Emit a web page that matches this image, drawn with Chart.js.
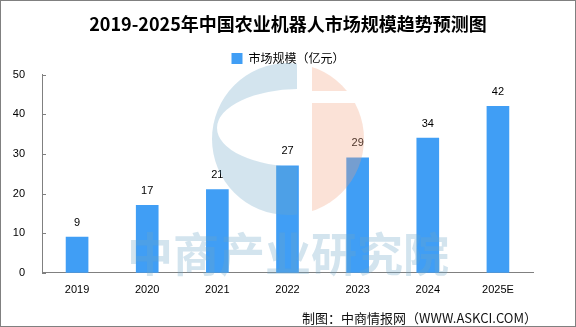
<!DOCTYPE html>
<html>
<head>
<meta charset="utf-8">
<script src="https://cdn.jsdelivr.net/npm/chart.js@4.4.0/dist/chart.umd.min.js"></script>
<style>
    body { margin: 0; background: #fff; }
    #wrap { position: relative; width: 576px; height: 327px; }
    #frame { position: absolute; left: 0; top: 0; right: 0; bottom: 0; border: 1px solid #808080; pointer-events: none; }
</style>
</head>
<body>
<div id="wrap">
    <canvas id="marketChart" width="576" height="327"></canvas>
    <div id="frame"></div>
</div>
<script>
// 数据
const years = ['2019', '2020', '2021', '2022', '2023', '2024', '2025E'];
const marketSize = [9, 17, 21, 27, 29, 34, 42];
const yTicks = [0, 10, 20, 30, 40, 50];

const titleText = '2019-2025年中国农业机器人市场规模趋势预测图';
const legendText = '市场规模（亿元）';
const footerText = '制图：中商情报网（WWW.ASKCI.COM）';
const watermarkText = '中商产业研究院';

const cjkFont = "'Noto Sans CJK SC', 'Noto Sans', sans-serif";

// 柱顶数值 + 纵轴刻度线
const labelPlugin = {
    id: 'valueLabels',
    afterDatasetsDraw(chart) {
        const ctx = chart.ctx;
        const meta = chart.getDatasetMeta(0);
        ctx.save();
        ctx.font = "11px 'Liberation Sans', Arial, sans-serif";
        ctx.fillStyle = '#000';
        ctx.textAlign = 'center';
        ctx.textBaseline = 'bottom';
        meta.data.forEach((bar, i) => {
            ctx.fillText(marketSize[i], bar.x, bar.y - 9);
        });
        // 刻度线 (朝内)
        const y = chart.scales.y;
        ctx.strokeStyle = '#808080';
        ctx.lineWidth = 1;
        y.ticks.forEach(t => {
            const py = Math.round(y.getPixelForValue(t.value)) + 0.5;
            ctx.beginPath();
            ctx.moveTo(y.right, py);
            ctx.lineTo(y.right + 4, py);
            ctx.stroke();
        });
        ctx.restore();
    }
};

// 水印 + 制图来源
const watermarkPlugin = {
    id: 'watermark',
    afterDraw(chart) {
        const ctx = chart.ctx;
        const cx = 288, cy = 139, r = 76;
        ctx.save();
        ctx.globalAlpha = 0.3;

        // 左半 蓝色
        ctx.save();
        ctx.beginPath();
        ctx.rect(cx - r - 2, cy - r - 2, 297 - (cx - r - 2), 2 * r + 4);
        ctx.clip();
        ctx.beginPath();
        ctx.arc(cx, cy, r, 0, Math.PI * 2);
        ctx.ellipse(300, 128, 83, 39, 0, 0, Math.PI * 2);
        ctx.fillStyle = 'rgb(108,165,198)';
        ctx.fill('evenodd');
        ctx.restore();

        // 右半 橙色
        ctx.save();
        ctx.beginPath();
        ctx.rect(312, cy - r - 2, r + 2, 91 - (cy - r - 2));
        ctx.rect(312, 103, r + 2, cy + r + 2 - 103);
        ctx.clip();
        ctx.beginPath();
        ctx.arc(cx, cy, r, 0, Math.PI * 2);
        ctx.fillStyle = 'rgb(242,158,122)';
        ctx.fill();
        ctx.restore();

        // 文字水印
        ctx.font = 'bold 46px ' + cjkFont;
        ctx.fillStyle = 'rgb(108,165,198)';
        ctx.textAlign = 'center';
        ctx.textBaseline = 'middle';
        ctx.fillText(watermarkText, 288, 254);
        ctx.restore();

        ctx.save();
        ctx.font = '13px ' + cjkFont;
        ctx.fillStyle = '#111';
        ctx.textAlign = 'right';
        ctx.textBaseline = 'middle';
        ctx.fillText(footerText, 537, 318);
        ctx.restore();
    }
};

const ctx = document.getElementById('marketChart').getContext('2d');
const marketChart = new Chart(ctx, {
    type: 'bar',
    data: {
        labels: years,
        datasets: [{
            label: legendText,
            data: marketSize,
            backgroundColor: '#409ef5',
            borderWidth: 0,
            barThickness: 22,
            yAxisID: 'y'
        }]
    },
    options: {
        responsive: false,
        animation: false,
        layout: { padding: { left: 0, right: 0, top: 1, bottom: 27 } },
        plugins: {
            title: {
                display: true,
                text: titleText,
                color: '#000',
                font: { family: cjkFont, size: 18, weight: 'bold' },
                padding: { top: 12, bottom: 8 }
            },
            legend: {
                display: true,
                labels: {
                    color: '#000',
                    boxWidth: 11,
                    boxHeight: 11,
                    font: { family: cjkFont, size: 12 }
                }
            },
            tooltip: { enabled: false }
        },
        scales: {
            x: {
                grid: { display: false },
                border: { display: true, color: '#808080' },
                ticks: {
                    color: '#000',
                    padding: 3,
                    font: { family: "'Liberation Sans', Arial, sans-serif", size: 11 }
                }
            },
            y: {
                min: 0,
                max: 50,
                afterBuildTicks(scale) {
                    scale.ticks = yTicks.map(v => ({ value: v }));
                },
                afterFit(scale) { scale.width = 42; },
                grid: { display: false },
                border: { display: true, color: '#808080' },
                ticks: {
                    color: '#000',
                    padding: 9,
                    font: { family: "'Liberation Sans', Arial, sans-serif", size: 11 }
                }
            },
            yRight: {
                position: 'right',
                display: true,
                afterFit(scale) { scale.width = 43; },
                grid: { display: false },
                border: { display: false },
                ticks: { display: false }
            }
        }
    },
    plugins: [labelPlugin, watermarkPlugin]
});
</script>
</body>
</html>
